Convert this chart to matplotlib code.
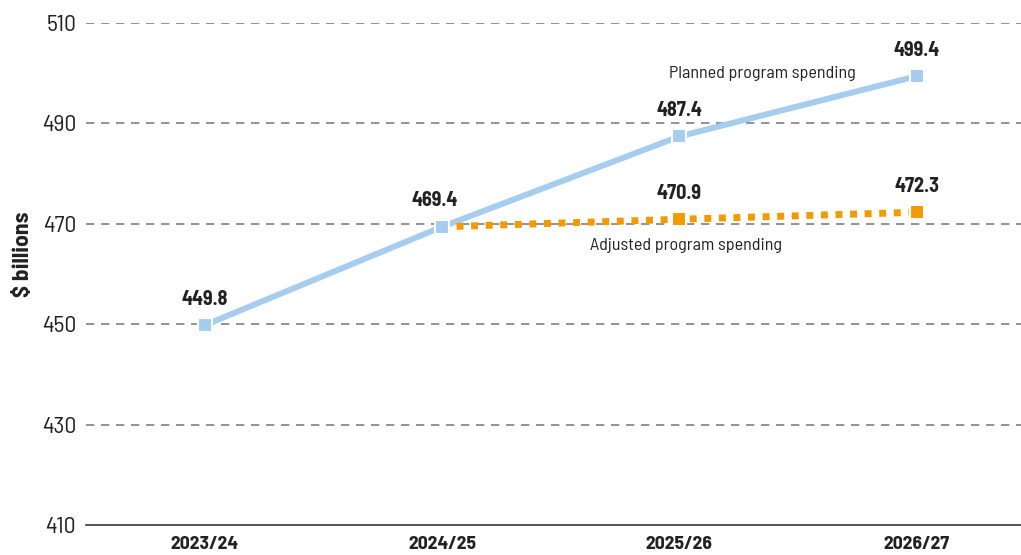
import matplotlib
matplotlib.use("Agg")
import matplotlib.pyplot as plt
import numpy as np

# ── colours ──────────────────────────────────────────────────────────────────
BLUE   = "#a7cdee"
ORANGE = "#f39a00"
TEXT   = "#222222"
GRID   = "#808080"

# ── data ─────────────────────────────────────────────────────────────────────
years    = ["2023/24", "2024/25", "2025/26", "2026/27"]
planned  = [449.8, 469.4, 487.4, 499.4]
adjusted = [np.nan, 469.4, 470.9, 472.3]
yticks   = [410, 430, 450, 470, 490, 510]

plt.rcParams["font.family"] = ["Barlow Semi Condensed", "DejaVu Sans"]

fig = plt.figure(figsize=(10.21, 5.55), dpi=100)
ax = fig.add_axes([0.0842, 0.054, 0.9158, 0.9046])
x = np.arange(len(years))

ax.plot(x, planned, color=BLUE, lw=4.3, solid_capstyle="butt", zorder=3)
ax.plot(x, planned, ls="none", marker="s", ms=10, color=BLUE,
        mec="white", mew=1.5, zorder=4)
ax.plot(x, adjusted, color=ORANGE, lw=5, ls=(0, (1, 1.1)),
        dash_capstyle="butt", zorder=3)
ax.plot(x[2:], adjusted[2:], ls="none", marker="s", ms=10, color=ORANGE,
        mec="white", mew=1.5, zorder=4)

# value labels
for i, v in enumerate(planned):
    dx = -0.03 if i == 1 else 0
    ax.annotate(f"{v:.1f}", (x[i] + dx, v), xytext=(0, 12), textcoords="offset points",
                ha="center", va="bottom", fontsize=14.5, fontweight="bold", color=TEXT)
for i in (2, 3):
    ax.annotate(f"{adjusted[i]:.1f}", (x[i], adjusted[i]), xytext=(0, 12),
                textcoords="offset points", ha="center", va="bottom",
                fontsize=14.5, fontweight="bold", color=TEXT)

ax.text(2.35, 500.0, "Planned program spending", ha="center", va="center",
        fontsize=13, color=TEXT)
ax.text(2.03, 465.6, "Adjusted program spending", ha="center", va="center",
        fontsize=13, color=TEXT)

ax.set_xlim(-0.5, 3.44)
ax.set_ylim(410, 510)
ax.set_xticks(x)
ax.set_xticklabels(years, fontsize=14, fontweight="bold", color=TEXT)
ax.set_yticks(yticks)
ax.set_yticklabels([str(t) for t in yticks], fontsize=17, color=TEXT)
ax.tick_params(length=0, pad=7)
ax.tick_params(axis="x", pad=8)
ax.set_ylabel("$ billions", fontsize=17, fontweight="bold", color=TEXT)
ax.yaxis.set_label_coords(-0.057, 0.54)

for t in yticks[1:]:
    ax.axhline(t, color=GRID, lw=1.2, ls=(0, (5, 4)), zorder=1)
for s in ("top", "right", "left"):
    ax.spines[s].set_visible(False)
ax.spines["bottom"].set_color("#333333")
ax.spines["bottom"].set_linewidth(1.2)

fig.savefig("out.png", dpi=100)
